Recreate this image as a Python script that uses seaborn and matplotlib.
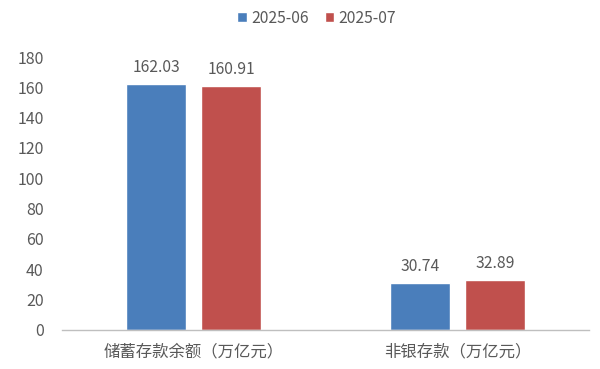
import matplotlib
matplotlib.use("Agg")
import matplotlib.pyplot as plt
import seaborn as sns
import pandas as pd
from matplotlib.ticker import FixedLocator

categories = ["储蓄存款余额（万亿元）", "非银存款（万亿元）"]
series = ["2025-06", "2025-07"]
values_0606 = [162.03, 30.74]
values_0707 = [160.91, 32.89]
colors = ["#4a7ebb", "#c0504d"]

df = pd.DataFrame({
    "cat": categories * 2,
    "series": [series[0]] * 2 + [series[1]] * 2,
    "value": values_0606 + values_0707,
})

sns.set_theme(style="white")
plt.rcParams["font.family"] = ["Noto Sans CJK SC", "DejaVu Sans"]

fig = plt.figure(figsize=(6, 3.69), dpi=100)
ax = fig.add_axes([0.103, 0.106, 0.879, 0.7395])

sns.barplot(data=df, x="cat", y="value", hue="series", palette=colors,
            width=0.57, gap=0.2, ax=ax, saturation=1, legend=True)

ax.set_ylim(0, 180)
ax.set_xlim(-0.5, 1.5)
ax.set_yticks(range(0, 181, 20))
ax.set_xlabel("")
ax.set_ylabel("")
text_color = "#595959"
ax.tick_params(axis="y", length=0, labelsize=11.5, labelcolor=text_color, pad=13)
ax.tick_params(axis="x", length=0, labelsize=11.8, labelcolor=text_color, pad=10)
ax.xaxis.set_minor_locator(FixedLocator([-0.5, 0.5, 1.5]))
ax.tick_params(axis="x", which="minor", length=4, color="#bfbfbf", width=1)

for s in ["top", "right", "left"]:
    ax.spines[s].set_visible(False)
ax.spines["bottom"].set_color("#bfbfbf")
ax.spines["bottom"].set_linewidth(1)

for cont in ax.containers:
    ax.bar_label(cont, labels=[f"{v:.2f}" for v in cont.datavalues],
                 padding=6, fontsize=11.3, color=text_color)

ax.get_legend().remove()
handles, labels = ax.get_legend_handles_labels()
leg = fig.legend(handles, labels, loc="center", bbox_to_anchor=(0.528, 0.951), ncol=2,
                 frameon=False, fontsize=11.3, handlelength=0.6, handleheight=0.6,
                 handletextpad=0.3, columnspacing=1.0)
for t in leg.get_texts():
    t.set_color(text_color)

fig.savefig("out.png", dpi=100)
